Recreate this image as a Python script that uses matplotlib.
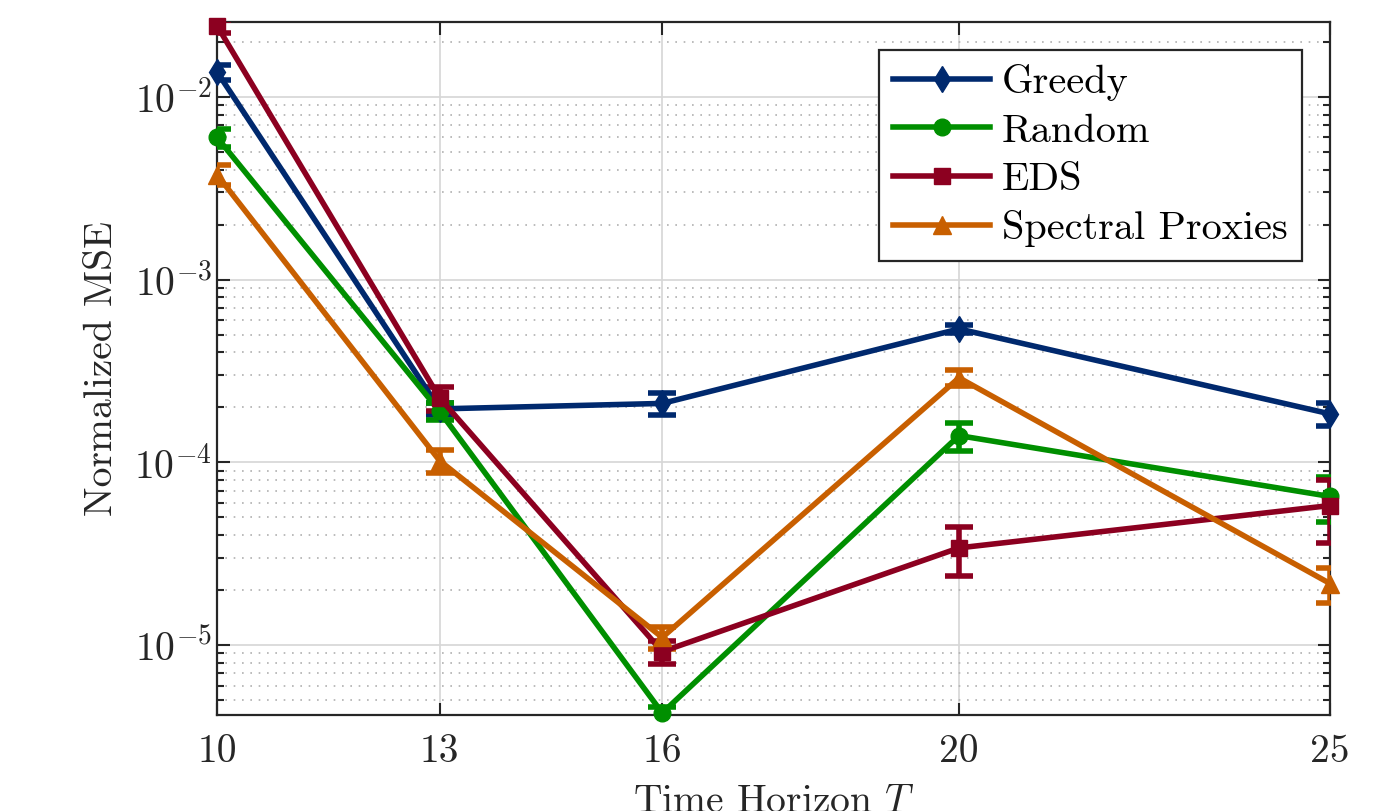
import matplotlib
matplotlib.use("Agg")
import matplotlib.pyplot as plt
import numpy as np

plt.rcParams['font.family'] = 'serif'
plt.rcParams['font.serif'] = ['cmr10', 'DejaVu Serif']
plt.rcParams['mathtext.fontset'] = 'cm'
plt.rcParams['axes.unicode_minus'] = False
plt.rcParams['axes.formatter.use_mathtext'] = True

T = [10, 13, 16, 20, 25]
xticks = [10, 13, 16, 20, 25]

greedy = [1.37e-2, 1.96e-4, 2.10e-4, 5.37e-4, 1.84e-4]
greedy_err = [1.3e-3, 1.5e-5, 2.9e-5, 2.5e-5, 2.7e-5]
random_ = [6.0e-3, 1.90e-4, 4.25e-6, 1.40e-4, 6.5e-5]
random_err = [6.8e-4, 2.0e-5, 3.0e-7, 2.4e-5, 1.8e-5]
eds = [2.45e-2, 2.25e-4, 9.2e-6, 3.4e-5, 5.8e-5]
eds_err = [2.0e-3, 3.4e-5, 1.3e-6, 1.0e-5, 2.2e-5]
spectral = [3.75e-3, 1.02e-4, 1.10e-5, 2.90e-4, 2.17e-5]
spectral_err = [4.7e-4, 1.5e-5, 1.5e-6, 3.0e-5, 4.7e-6]

series = [
    ("Greedy", greedy, greedy_err, '#00296e', 'd', 13),
    ("Random", random_, random_err, '#008f00', 'o', 12),
    ("EDS", eds, eds_err, '#8c0020', 's', 11),
    ("Spectral Proxies", spectral, spectral_err, '#c85f00', '^', 13),
]

fig = plt.figure(figsize=(13.93, 8.11), dpi=100)
ax = fig.add_axes([0.1558, 0.1184, 0.799, 0.8545])

for name, y, e, c, m, ms in series:
    ax.errorbar(T, y, yerr=e, fmt='none', ecolor=c, elinewidth=4,
                capsize=10, capthick=4, zorder=3)
    ax.plot(T, y, color=c, lw=4, marker=m, markersize=ms, label=name,
            clip_on=False, zorder=4)

ax.set_yscale('log')
ax.set_xlim(10, 25)
ax.set_ylim(4.14e-6, 2.57e-2)
ax.set_xticks(xticks)
ax.set_xticklabels([str(v) for v in xticks])
ax.set_yticks([1e-5, 1e-4, 1e-3, 1e-2])

ax.grid(True, which='major', color='#d6d6d6', lw=1.2, ls='-')
ax.grid(True, which='minor', axis='y', color='#b0b0b0', lw=1.2, ls=(0, (1, 4)))
ax.set_axisbelow(True)

ax.tick_params(which='both', direction='in', top=True, right=True,
               labelsize=28.5, width=1.5, colors='#262626')
ax.tick_params(which='major', length=9)
ax.tick_params(which='minor', length=5)
ax.tick_params(axis='x', pad=14)
for sp in ax.spines.values():
    sp.set_linewidth(1.6)
    sp.set_color('#262626')

ax.set_ylabel('Normalized MSE', fontsize=28.5, color='#262626', labelpad=10)
ax.set_xlabel('Time Horizon $T$', fontsize=28.5, color='#262626', labelpad=10)

leg = ax.legend(loc='upper right', fontsize=29, fancybox=False, framealpha=1,
                edgecolor='#262626', handlelength=2.4, borderaxespad=0.7,
                labelspacing=0.3, handletextpad=0.3, borderpad=0.35)
leg.get_frame().set_linewidth(1.6)

fig.savefig('out.png', dpi=100)
